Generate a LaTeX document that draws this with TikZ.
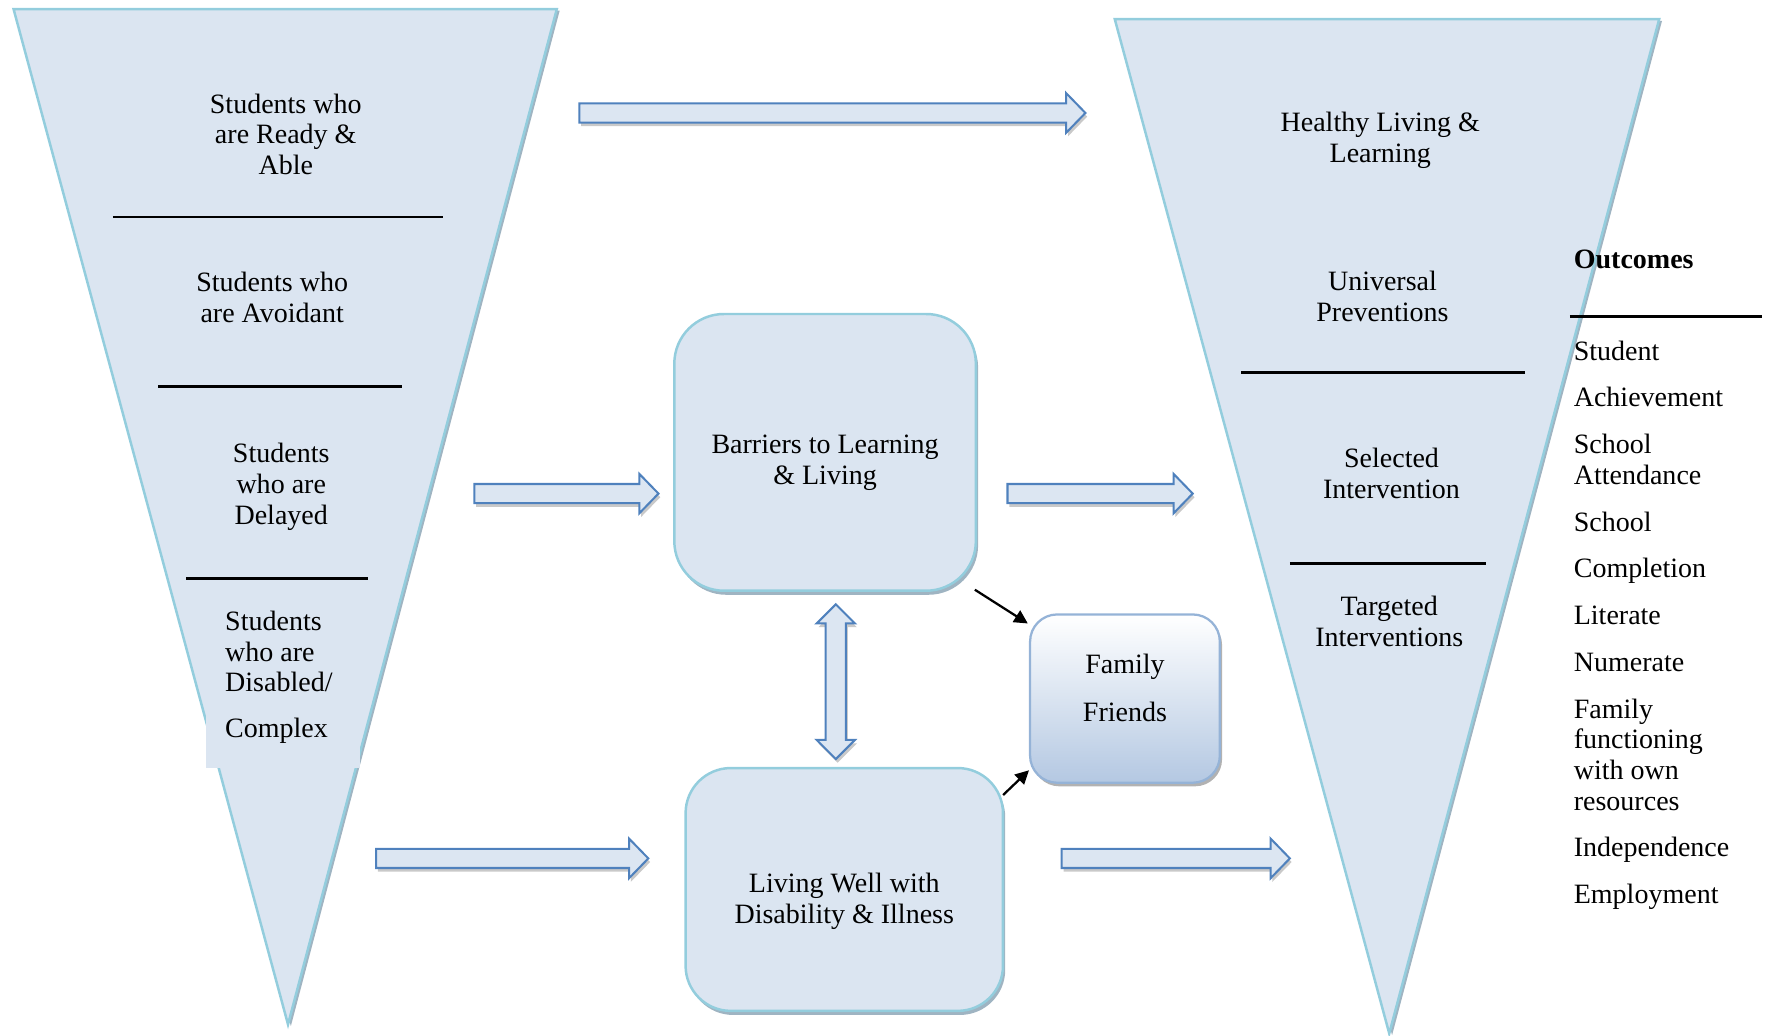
\documentclass[tikz,border=0pt]{standalone}
\usepackage{fontspec}
\setmainfont{Liberation Serif}
\usetikzlibrary{shadows,calc,arrows.meta}
\definecolor{tfill}{HTML}{DBE5F1}
\definecolor{tedge}{HTML}{93CDDD}
\definecolor{tshadow}{HTML}{9FB4C2}
\definecolor{afill}{HTML}{DCE6F2}
\definecolor{aedge}{HTML}{4F81BD}
\definecolor{ashadow}{HTML}{C9C9C9}
\definecolor{fedge}{HTML}{95B3D7}
\definecolor{fbottom}{HTML}{B4C8E2}
\tikzset{
 txt/.style={font=\fontsize{12.4}{13.6}\selectfont, align=center, inner sep=0pt},
 funnel/.style={fill=tfill, draw=tedge, line width=1.1pt, line join=miter},
 funnelshadow/.style={fill=tshadow},
 divider/.style={line width=1.2pt, black},
 boxstyle/.style={fill=tfill, draw=tedge, line width=1.1pt, drop shadow={shadow xshift=1pt, shadow yshift=-1.8pt, fill=tshadow, opacity=1}},
 blockarrow/.style={fill=afill, draw=aedge, line width=0.9pt, line join=miter, drop shadow={shadow xshift=0.8pt, shadow yshift=-1.6pt, fill=ashadow, opacity=1}},
 thinarrow/.style={-{Triangle[length=6pt,width=6pt]}, line width=1pt, black},
}
\newcommand{\hblock}[3]{%
 \draw[blockarrow] (#1,{#3-8.5}) -- ({#2-17},{#3-8.5}) -- ({#2-17},{#3-17.5}) -- (#2,#3) -- ({#2-17},{#3+17.5}) -- ({#2-17},{#3+8.5}) -- (#1,{#3+8.5}) -- cycle;}
\begin{document}
\begin{tikzpicture}[x=0.5pt, y=-0.5pt]
\useasboundingbox (0,0) rectangle (1568,917);
% left funnel
\fill[funnelshadow] (14.5,9.5) -- (495.5,9.5) -- (257.5,908.5) -- cycle;
\draw[funnel] (12,8) -- (493,8) -- (255,907) -- cycle;
\fill[tfill] (182,615) rectangle (319,680);
\draw[divider] (100,192) -- (392,192);
\draw[divider] (140,342) -- (356,342);
\draw[divider] (165,512) -- (326,512);
\node[txt] (ready) at (253,119) {Students who\\are Ready \&\\Able};
\node[txt] (avoid) at (241,263) {Students who\\are Avoidant};
\node[txt] (delayed) at (249,431) {Students\\who are\\Delayed};
\node[txt, align=left, anchor=west] (disabled) at (199,599.5) {Students\\who are\\Disabled/\\[6.5pt]Complex};
% right funnel
\fill[funnelshadow] (989.5,18.5) -- (1471.5,18.5) -- (1232.5,916.5) -- cycle;
\draw[funnel] (987,17) -- (1469,17) -- (1230,915) -- cycle;
\draw[divider] (1099,330) -- (1350,330);
\draw[divider] (1142,499) -- (1316,499);
\node[txt] (healthy) at (1222,124.5) {Healthy Living \&\\Learning};
\node[txt] (universal) at (1224,262.5) {Universal\\Preventions};
\node[txt] (selected) at (1232,419) {Selected\\Intervention};
\node[txt] (targeted) at (1230,550) {Targeted\\Interventions};
% outcomes
\node[txt, anchor=west, font=\fontsize{12.4}{13.6}\selectfont\bfseries] (outcomes) at (1393,230) {Outcomes};
\draw[line width=1.5pt] (1390,280) -- (1560,280);
\node[txt, align=left, anchor=west] (outlist) at (1393,553.5) {Student\\[7.1pt]Achievement\\[7.1pt]School\\Attendance\\[7.1pt]School\\[7.1pt]Completion\\[7.1pt]Literate\\[7.1pt]Numerate\\[7.1pt]Family\\functioning\\with own\\resources\\[7.1pt]Independence\\[7.1pt]Employment};
% boxes
\node[boxstyle, rounded corners=22pt, minimum width=133.5pt, minimum height=122.5pt, label={[txt, name=barrierstext, yshift=-4.75pt]center:Barriers to Learning\\\& Living}] (barriers) at (730.5,400.5) {};
\node[boxstyle, rounded corners=20pt, minimum width=140.5pt, minimum height=107.5pt, label={[txt, name=livingtext, yshift=-5.25pt]center:Living Well with\\Disability \& Illness}] (living) at (747.5,787.5) {};
\node[top color=white, bottom color=fbottom, draw=fedge, line width=1pt, rounded corners=12pt, minimum width=84pt, minimum height=74.5pt, drop shadow={shadow xshift=1pt, shadow yshift=-1.6pt, fill=gray!60, opacity=1}, label={[txt, name=familytext, yshift=4.75pt]center:Family\\[7.4pt]Friends}] (family) at (996,618.5) {};
% block arrows
\hblock{513}{961}{100}
\hblock{420}{583}{437}
\hblock{892}{1056}{437}
\hblock{333}{574}{760}
\hblock{940}{1142}{760}
\draw[blockarrow] (740,535) -- (757,552) -- (749,552) -- (749,655) -- (757,655) -- (740,672) -- (723,655) -- (731,655) -- (731,552) -- (723,552) -- cycle;
% thin arrows
\draw[thinarrow] ($(barriers.south east)+(-2,-2)$) -- ($(family.north west)+(-1,9)$);
\draw[thinarrow] ($(living.north east)+(-1,25)$) -- ($(family.south west)+(0,-12)$);
\end{tikzpicture}
\end{document}
